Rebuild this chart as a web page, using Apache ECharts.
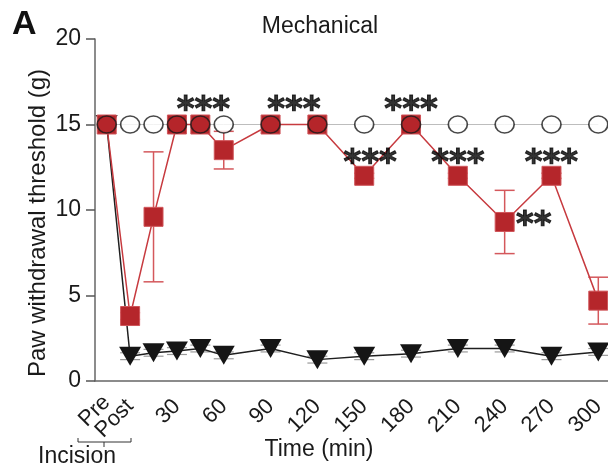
<!DOCTYPE html>
<html>
<head>
<meta charset="utf-8">
<script src="https://cdn.jsdelivr.net/npm/echarts@6/dist/echarts.min.js"></script>
<style>
html,body{margin:0;padding:0;background:#fff;}
#c{width:608px;height:472px;}
</style>
</head>
<body>
<div id="c"></div>
<script>
// ---- data ----
var categories = ['Pre','Post','15','30','45','60','75','90','105','120','135','150','165','180','195','210','225','240','255','270','285','300'];
var yTicks = [0, 5, 10, 15, 20];
var shamValues = [15,15,15,15,15,15,null,15,null,15,null,15,null,15,null,15,null,15,null,15,null,15];
var drugValues = [15,3.8,9.6,15,15,13.5,null,15,null,15,null,12,null,15,null,12,null,9.3,null,12,null,4.7];
var drugSem    = [0,0.2,3.8,0,0,1.1,null,0,null,0,null,0.15,null,0,null,0.15,null,1.85,null,0.15,null,1.37];
var vehValues  = [15,1.45,1.65,1.75,1.9,1.5,null,1.9,null,1.25,null,1.45,null,1.6,null,1.9,null,1.9,null,1.45,null,1.7];
var vehSem     = [0,0.2,0.2,0.2,0.2,0.2,null,0.2,null,0.2,null,0.2,null,0.2,null,0.2,null,0.2,null,0.2,null,0.2];
var starCats   = ['45','105','180','150','210','270','240'];
var starValues = [16.1,16.1,16.1,13.0,13.0,13.0,9.3];
var starTexts  = ['***','***','***','***','***','***','**'];
var titleText = 'Mechanical';
var xName = 'Time (min)';
var yName = 'Paw withdrawal threshold (g)';
var groupLabel = 'Incision';
var panelLabel = 'A';

// ---- chart ----
var FONT = '"Liberation Sans", Arial, sans-serif';
var RED = '#b5262b';
var chart = echarts.init(document.getElementById('c'), null, {renderer:'canvas'});

function showTick(i, v){
  if (v === 'Pre' || v === 'Post') return true;
  var n = +v;
  return n <= 120 || n % 30 === 0;
}
function showLabelMain(i, v){
  if (v === 'Post') return true;
  if (v === 'Pre') return false;
  return (+v) % 30 === 0;
}
function showLabelPre(i, v){ return v === 'Pre'; }

function errData(vals, sems){
  var out = [];
  for (var i = 0; i < vals.length; i++){
    if (vals[i] != null && sems[i]) out.push([i, vals[i] - sems[i], vals[i] + sems[i]]);
  }
  return out;
}
function errRender(color, capHalf, lw){
  return function(params, api){
    var x = api.value(0);
    var lo = api.coord([x, api.value(1)]);
    var hi = api.coord([x, api.value(2)]);
    var st = {stroke: color, lineWidth: lw};
    return {type:'group', children:[
      {type:'line', shape:{x1:lo[0], y1:lo[1], x2:hi[0], y2:hi[1]}, style:st},
      {type:'line', shape:{x1:lo[0]-capHalf, y1:lo[1], x2:lo[0]+capHalf, y2:lo[1]}, style:st},
      {type:'line', shape:{x1:hi[0]-capHalf, y1:hi[1], x2:hi[0]+capHalf, y2:hi[1]}, style:st}
    ]};
  };
}

var starData = starCats.map(function(c, i){ return [c, starValues[i]]; });
var starOffsets = [[3,5],[0,5],[0,5],[6,5],[0,5],[0,5],[29,4]];

var labelStyle = {rotate: 45, fontSize: 22, color: '#1a1a1a', fontFamily: FONT, hideOverlap: false};

var option = {
  animation: false,
  grid: {left: 95, right: -2, top: 39, bottom: 91, containLabel: false, outerBoundsMode: 'none'},
  xAxis: [{
    type: 'category',
    data: categories,
    boundaryGap: true,
    axisLine: {lineStyle: {color: '#666', width: 1.5}},
    axisTick: {alignWithLabel: true, interval: showTick, length: 9, lineStyle: {color: '#555', width: 1.5}},
    axisLabel: Object.assign({interval: showLabelMain, margin: 22}, labelStyle),
    splitLine: {show: false}
  }, {
    type: 'category',
    data: categories,
    position: 'bottom',
    boundaryGap: true,
    axisLine: {show: false},
    axisTick: {show: false},
    axisLabel: Object.assign({interval: showLabelPre, margin: 18}, labelStyle),
    splitLine: {show: false}
  }],
  yAxis: {
    type: 'value',
    min: yTicks[0], max: yTicks[yTicks.length-1], interval: 5,
    axisLine: {show: true, lineStyle: {color: '#666', width: 1.5}},
    axisTick: {show: true, length: 9, lineStyle: {color: '#555', width: 1.5}},
    axisLabel: {fontSize: 23, color: '#1a1a1a', fontFamily: FONT, margin: 14},
    splitLine: {show: false}
  },
  series: [
    { // gray reference line through sham
      type: 'line', data: shamValues, connectNulls: true, showSymbol: false, symbol: 'none',
      lineStyle: {color: '#bdbdbd', width: 1}, z: 1, silent: true
    },
    {
      type: 'custom', data: errData(vehValues, vehSem), renderItem: errRender('#999', 10, 1.2), z: 2, silent: true
    },
    { // vehicle line + triangles
      type: 'line', data: vehValues, connectNulls: true,
      symbol: 'triangle', symbolRotate: 180, symbolSize: [22,19], showAllSymbol: true,
      lineStyle: {color: '#1f1f1f', width: 1.5},
      itemStyle: {color: '#151515'}, z: 3
    },
    {
      type: 'custom', data: errData(drugValues, drugSem), renderItem: errRender('#d4585c', 10, 1.5), z: 4, silent: true
    },
    { // drug line + squares
      type: 'line', data: drugValues, connectNulls: true,
      symbol: 'rect', symbolSize: 19, showAllSymbol: true,
      lineStyle: {color: '#c73a3f', width: 1.5},
      itemStyle: {color: RED, borderColor: '#d0555a', borderWidth: 1}, z: 5
    },
    { // sham circles
      type: 'scatter', data: shamValues.map(function(v, i){ return v == null ? null : [i, v]; }).filter(function(d){return d;}),
      symbol: 'circle', symbolSize: [19,17],
      itemStyle: {
        color: function(p){ var i = p.data[0]; return drugValues[i] === shamValues[i] ? RED : '#fff'; },
        borderColor: '#1a1a1a', borderWidth: 1.6
      }, z: 6
    },
    { // significance
      type: 'scatter', data: starData, symbolSize: 0, z: 7, silent: true,
      label: {
        show: true, position: 'inside',
        formatter: function(p){ return starTexts[p.dataIndex]; },
        fontFamily: '"DejaVu Sans", sans-serif', fontWeight: 'bold', fontSize: 34, color: '#000',
        textBorderColor: '#000', textBorderWidth: 1
      },
      labelLayout: function(p){ var o = starOffsets[p.dataIndex]; return {dx: o[0], dy: o[1]}; }
    }
  ],
  graphic: [
    {type:'text', x: 12, y: 25, style:{text: panelLabel, font: 'bold 34px ' + FONT, fill:'#111', textAlign:'left', textVerticalAlign:'middle'}},
    {type:'text', x: 320, y: 27, style:{text: titleText, font: '23px ' + FONT, fill:'#1a1a1a', textAlign:'center', textVerticalAlign:'middle'}},
    {type:'text', x: 319, y: 450, style:{text: xName, font: '23px ' + FONT, fill:'#1a1a1a', textAlign:'center', textVerticalAlign:'middle'}},
    {type:'text', x: 38, y: 223, rotation: Math.PI/2, style:{text: yName, font: '24px ' + FONT, fill:'#1a1a1a', textAlign:'center', textVerticalAlign:'middle'}},
    {type:'text', x: 77, y: 457, style:{text: groupLabel, font: '23px ' + FONT, fill:'#1a1a1a', textAlign:'center', textVerticalAlign:'middle'}},
    {type:'polyline', shape:{points:[[78,438],[78,442],[131,442],[131,438]]}, style:{stroke:'#333', lineWidth:1, fill:null}},
    {type:'line', shape:{x1:104, y1:442, x2:104, y2:447}, style:{stroke:'#333', lineWidth:1}}
  ]
};
chart.setOption(option);
</script>
</body>
</html>
